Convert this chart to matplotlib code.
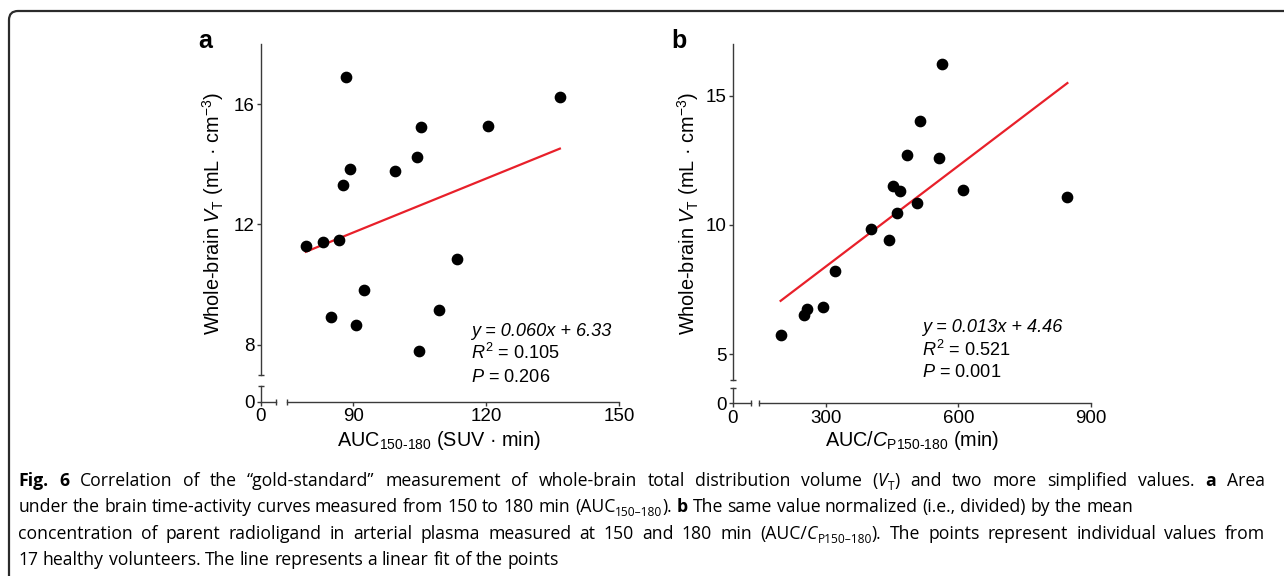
"""Recreate Fig. 6: whole-brain V_T against two simplified AUC measures."""

import matplotlib

matplotlib.use("Agg")
import matplotlib.pyplot as plt  # noqa: E402
import numpy as np  # noqa: E402
from matplotlib.font_manager import FontProperties  # noqa: E402
from matplotlib.patches import FancyBboxPatch  # noqa: E402
from matplotlib.transforms import IdentityTransform  # noqa: E402

W, H = 1284, 576

# Panel a: AUC 150-180 (SUV min) vs whole-brain VT
auc_a = [79.3, 83.2, 86.9, 88.4, 87.8, 89.2, 92.4, 85.0, 99.5,
         104.4, 105.3, 120.4, 136.6, 113.5, 109.3, 90.7, 104.9]
vt_a = [11.29, 11.43, 11.49, 16.91, 13.31, 13.84, 9.83, 8.92, 13.77,
        14.23, 15.24, 15.26, 16.23, 10.84, 9.16, 8.64, 7.80]

# Panel b: AUC/Cp 150-180 (min) vs whole-brain VT
auc_b = [563.9, 513.5, 483.2, 556.4, 451.5, 468.2, 609.8, 846.6, 507.4,
         460.6, 402.7, 444.1, 320.4, 293.2, 257.9, 251.2, 198.2]
vt_b = [16.21, 14.02, 12.72, 12.59, 11.50, 11.31, 11.36, 11.09, 10.85,
        10.45, 9.83, 9.41, 8.23, 6.84, 6.74, 6.51, 5.75]

xticks_a = [90, 120, 150]
yticks_a = [8, 12, 16]
xticks_b = [300, 600, 900]
yticks_b = [5, 10, 15]

stats_a = ["y = 0.060x + 6.33", "0.105", "0.206"]
stats_b = ["y = 0.013x + 4.46", "0.521", "0.001"]

ylabel = "Whole-brain $V_\\mathrm{T}$ (mL · cm$^{-3}$)"
xlabel_a = "AUC$_{\\mathrm{150\\text{-}180}}$ (SUV · min)"
xlabel_b = "AUC/$C_{\\mathrm{P150\\text{-}180}}$ (min)"

# caption lines: runs of (text, kind); the flag marks justified lines
caption = [
    ([("Fig. 6", "b"),
      (" Correlation of the \u201cgold-standard\u201d measurement of whole-brain "
       "total distribution volume (", "n"),
      ("V", "i"), ("T", "sub"),
      (") and two more simplified values. ", "n"), ("a", "b"), (" Area", "n")], True),
    ([("under the brain time-activity curves measured from 150 to 180 min (AUC", "n"),
      ("150\u2013180", "sub"), ("). ", "n"), ("b", "b"),
      (" The same value normalized (i.e., divided) by the mean", "n")], False),
    ([("concentration of parent radioligand in arterial plasma measured at 150 "
       "and 180 min (AUC/", "n"),
      ("C", "i"), ("P150\u2013180", "sub"),
      ("). The points represent individual values from", "n")], True),
    ([("17 healthy volunteers. The line represents a linear fit of the points", "n")], False),
]

plt.rcParams["font.family"] = ["Liberation Sans", "DejaVu Sans"]
plt.rcParams["mathtext.fontset"] = "custom"
plt.rcParams["mathtext.rm"] = "Liberation Sans"
plt.rcParams["mathtext.it"] = "Liberation Sans:italic"
plt.rcParams["mathtext.bf"] = "Liberation Sans:bold"

AXIS_COLOR = "#3a3a3a"
RED = "#e8202a"
PX = 72.0 / 100.0  # points per pixel at dpi 100
TICK_SIZE = 13.5
LABEL_SIZE = 14.3
STAT_SIZE = 13.1


def px_rect(x0, y0, x1, y1):
    """Pixel box (top-left origin) to a figure-fraction rect."""
    return [x0 / W, 1 - y1 / H, (x1 - x0) / W, (y1 - y0) / H]


def style_axis(ax):
    for side in ("top", "right"):
        ax.spines[side].set_visible(False)
    for side in ("left", "bottom"):
        ax.spines[side].set_color(AXIS_COLOR)
        ax.spines[side].set_linewidth(1.0)
    ax.patch.set_visible(False)
    ax.tick_params(which="major", direction="out", length=3, width=1.0,
                   color=AXIS_COLOR, labelsize=TICK_SIZE, pad=1.5)
    ax.tick_params(which="minor", direction="inout", length=5, width=1.0,
                   color=AXIS_COLOR)


def scatter_panel(fig, rect, zero_rect, x, y, xlim, ylim, xticks, yticks,
                  offsets, stats, text_pos, xlabel, xlabel_pos, ylabel_pos,
                  letter, letter_pos):
    ax = fig.add_axes(px_rect(*rect))
    style_axis(ax)
    ax.spines["left"].set_position(("outward", offsets[0] * PX))
    ax.spines["bottom"].set_position(("outward", offsets[1] * PX))
    ax.set_xlim(*xlim)
    ax.set_ylim(*ylim)
    ax.set_xticks(xticks)
    ax.set_yticks(yticks)
    ax.set_xticks([xlim[0]], minor=True)
    ax.set_yticks([ylim[0]], minor=True)

    ax.scatter(x, y, s=55, color="black", zorder=3, clip_on=False)
    coef = np.polyfit(x, y, 1)
    xs = np.array([min(x), max(x)])
    ax.plot(xs, np.polyval(coef, xs), color=RED, lw=1.6, zorder=2)

    # short segment of the broken axes that carries the zero
    ax0 = fig.add_axes(px_rect(*zero_rect))
    style_axis(ax0)
    ax0.set_xlim(0, 1)
    ax0.set_ylim(0, 1)
    ax0.set_xticks([0])
    ax0.set_yticks([0])
    ax0.set_xticks([1], minor=True)
    ax0.set_yticks([1], minor=True)

    ax.set_xlabel(xlabel, fontsize=LABEL_SIZE)
    ax.xaxis.set_label_coords(xlabel_pos[0] / W, 1 - xlabel_pos[1] / H,
                              transform=fig.transFigure)
    ax.xaxis.label.set_va("center")
    ax.set_ylabel(ylabel, fontsize=LABEL_SIZE)
    ax.yaxis.set_label_coords(ylabel_pos[0] / W, 1 - ylabel_pos[1] / H,
                              transform=fig.transFigure)
    ax.yaxis.label.set_va("center")

    tx, (b1, b2, b3) = text_pos
    fig.text(tx / W, 1 - b1 / H, stats[0], style="italic", fontsize=STAT_SIZE,
             va="baseline")
    fig.text(tx / W, 1 - b2 / H, "$R^2$ = " + stats[1], fontsize=STAT_SIZE,
             va="baseline")
    fig.text(tx / W, 1 - b3 / H, "$P$ = " + stats[2], fontsize=STAT_SIZE,
             va="baseline")
    fig.text(letter_pos[0] / W, 1 - letter_pos[1] / H, letter,
             fontsize=18, fontweight="bold", va="baseline")
    return ax


def run_width(renderer, text, prop):
    """Advance width of text in pixels, spaces included."""
    w_full, _, _ = renderer.get_text_width_height_descent("|" + text + "|", prop, ismath=False)
    w_bars, _, _ = renderer.get_text_width_height_descent("||", prop, ismath=False)
    return w_full - w_bars


def run_props(kind, size):
    prop = FontProperties(family="Open Sans", size=size)
    dy = 0
    if kind == "b":
        prop.set_weight("bold")
    elif kind == "i":
        prop.set_style("italic")
    elif kind == "sub":
        prop.set_size(size * 0.68)
        dy = -4
    return prop, dy


def draw_caption(fig, x0, x_right, baselines, lines, size):
    renderer = fig.canvas.get_renderer()
    for base, (runs, justify) in zip(baselines, lines):
        natural = sum(run_width(renderer, t, run_props(k, size)[0]) for t, k in runs)
        n_spaces = sum(t.count(" ") for t, _ in runs)
        extra = (x_right - x0 - natural) / n_spaces if justify and n_spaces else 0.0
        x = x0
        for text, kind in runs:
            prop, dy = run_props(kind, size)
            space = run_width(renderer, " ", prop)
            for i, word in enumerate(text.split(" ")):
                if i > 0:
                    x += space + extra
                if word:
                    fig.text(x, H - base + dy, word, fontproperties=prop,
                             transform=IdentityTransform(), va="baseline",
                             ha="left")
                    x += run_width(renderer, word, prop)


fig = plt.figure(figsize=(W / 100, H / 100), dpi=100)

border = FancyBboxPatch((9, -40), 1320, H - 11 + 40,
                        boxstyle="round,pad=0,rounding_size=9",
                        transform=IdentityTransform(), fill=False,
                        edgecolor="#2b2b2b", linewidth=1.6, clip_on=False)
fig.patches.append(border)

scatter_panel(fig, (286.7, 44, 619.3, 374.7), (260.7, 386, 275.7, 401.7),
              auc_a, vt_a, (75, 150), (7, 18), xticks_a, yticks_a,
              (26, 27), stats_a, (470.7, (335.7, 359, 381.7)), xlabel_a,
              (439, 441), (213, 214), "a", (198, 47.7))

scatter_panel(fig, (759.3, 44, 1091, 380), (732.7, 388.3, 750.7, 403.3),
              auc_b, vt_b, (150, 900), (4, 17), xticks_b, yticks_b,
              (26.6, 23.3), stats_b, (921.7, (331.7, 356.5, 377.3)), xlabel_b,
              (912, 441), (688, 214), "b", (671.7, 47.7))

draw_caption(fig, 18.3, 1264.5, (485.7, 512.2, 538.7, 565.2), caption, 12.7)

fig.savefig("out.png", dpi=100)
